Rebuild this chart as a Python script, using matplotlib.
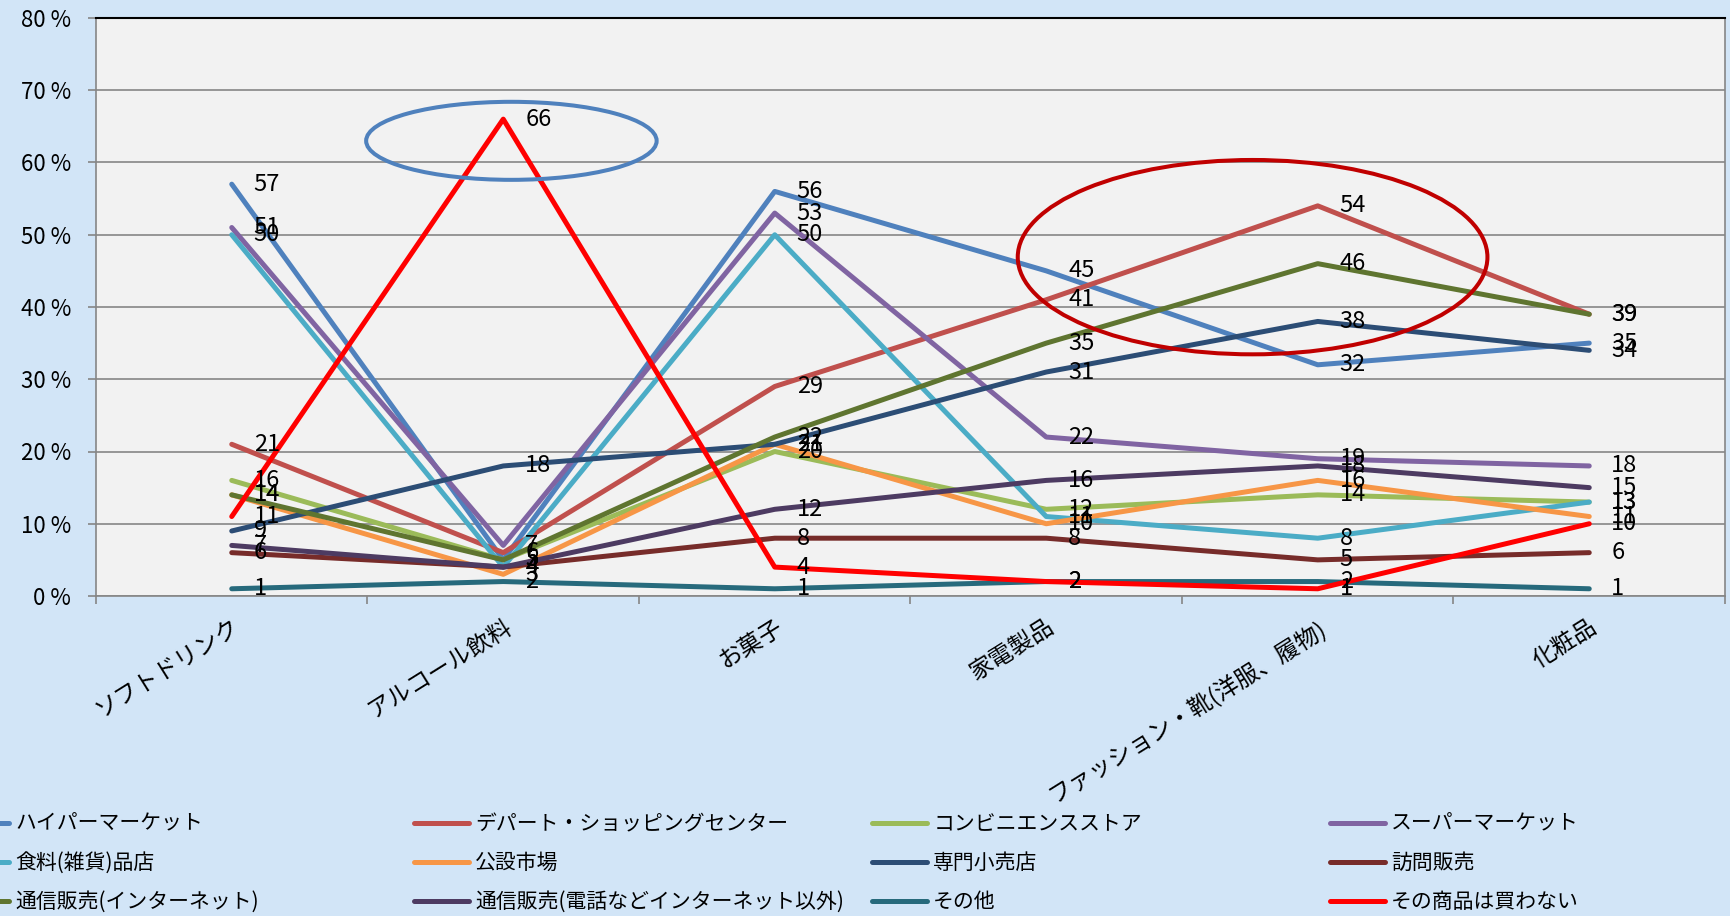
import numpy as np
import matplotlib
matplotlib.use("Agg")
import matplotlib.pyplot as plt
from matplotlib.patches import Ellipse

plt.rcParams['font.family'] = ['Noto Sans CJK JP', 'DejaVu Sans']

categories = ['ソフトドリンク', 'アルコール飲料', 'お菓子', '家電製品',
              'ファッション・靴(洋服、履物)', '化粧品']

series_names = ['ハイパーマーケット', 'デパート・ショッピングセンター', 'コンビニエンスストア', 'スーパーマーケット',
                '食料(雑貨)品店', '公設市場', '専門小売店', '訪問販売',
                '通信販売(インターネット)', '通信販売(電話などインターネット以外)', 'その他', 'その商品は買わない']

hyper = [57, 5, 56, 45, 32, 35]
dept = [21, 6, 29, 41, 54, 39]
conv = [16, 5, 20, 12, 14, 13]
supermarket = [51, 7, 53, 22, 19, 18]
food = [50, 4, 50, 11, 8, 13]
public_market = [14, 3, 21, 10, 16, 11]
specialty = [9, 18, 21, 31, 38, 34]
door_to_door = [6, 4, 8, 8, 5, 6]
mail_internet = [14, 5, 22, 35, 46, 39]
mail_phone = [7, 4, 12, 16, 18, 15]
other = [1, 2, 1, 2, 2, 1]
not_buy = [11, 66, 4, 2, 1, 10]

values = [hyper, dept, conv, supermarket, food, public_market,
          specialty, door_to_door, mail_internet, mail_phone, other, not_buy]

colors = ['#4F81BD', '#C0504D', '#9BBB59', '#8064A2', '#4BACC6', '#F79646',
          '#2C4D75', '#772C2A', '#5F7530', '#4D3B62', '#276A7C', '#FF0000']

yticks = [0, 10, 20, 30, 40, 50, 60, 70, 80]

W, H = 1731, 916
fig = plt.figure(figsize=(W / 100, H / 100), dpi=100)
fig.patch.set_facecolor('#d2e5f7')

ax = fig.add_axes([96 / W, 1 - 596 / H, (1725 - 96) / W, (596 - 18) / H])
ax.set_facecolor('#f2f2f2')

x = np.arange(len(categories))
handles = []
for name, vals, c in zip(series_names, values, colors):
    ln, = ax.plot(x, vals, color=c, lw=3.6, solid_capstyle='round',
                  solid_joinstyle='round', label=name)
    handles.append(ln)
    for xi, v in zip(x, vals):
        ax.annotate(str(v), (xi, v), xytext=(22, 0), textcoords='offset pixels',
                    ha='left', va='center', fontsize=17, color='black')

# highlight ellipses
ax.add_patch(Ellipse((1.03, 63.0), 1.07, 10.8, fill=False, ec='#4F81BD', lw=2.9, zorder=5))
ax.add_patch(Ellipse((3.76, 46.9), 1.73, 26.9, fill=False, ec='#C00000', lw=2.9, zorder=5))

ax.set_xlim(-0.5, 5.5)
ax.set_ylim(0, 80)
ax.set_yticks(yticks)
ax.set_yticklabels(['{} %'.format(t) for t in yticks], fontsize=16)
ax.yaxis.grid(True, color='#868686', lw=1.2)
ax.set_axisbelow(True)

ax.set_xticks(x)
ax.set_xticklabels(categories, rotation=32, ha='right', va='top',
                   rotation_mode='anchor', fontsize=17)
ax.set_xticks(np.arange(-0.5, 6, 1), minor=True)
ax.tick_params(axis='x', which='major', length=0, pad=14)
ax.tick_params(axis='x', which='minor', length=6, width=1.2, color='#868686')
ax.tick_params(axis='y', length=6, width=1.2, color='#868686', pad=12)

for s in ['left', 'bottom', 'right']:
    ax.spines[s].set_color('#868686')
    ax.spines[s].set_linewidth(1.2)
ax.spines['top'].set_color('black')
ax.spines['top'].set_linewidth(1.5)

# legend: four columns, row-major order
col_x = [-46 / W, 414 / W, 872 / W, 1330 / W]
for col in range(4):
    idx = [col, col + 4, col + 8]
    fig.legend([handles[i] for i in idx], [series_names[i] for i in idx],
               loc='center left', bbox_to_anchor=(col_x[col], 1 - 863 / H),
               frameon=False, fontsize=15, handlelength=2.64, handletextpad=0.3,
               labelspacing=0.82, borderpad=0, borderaxespad=0)

fig.savefig('out.png', dpi=100, facecolor=fig.get_facecolor())
